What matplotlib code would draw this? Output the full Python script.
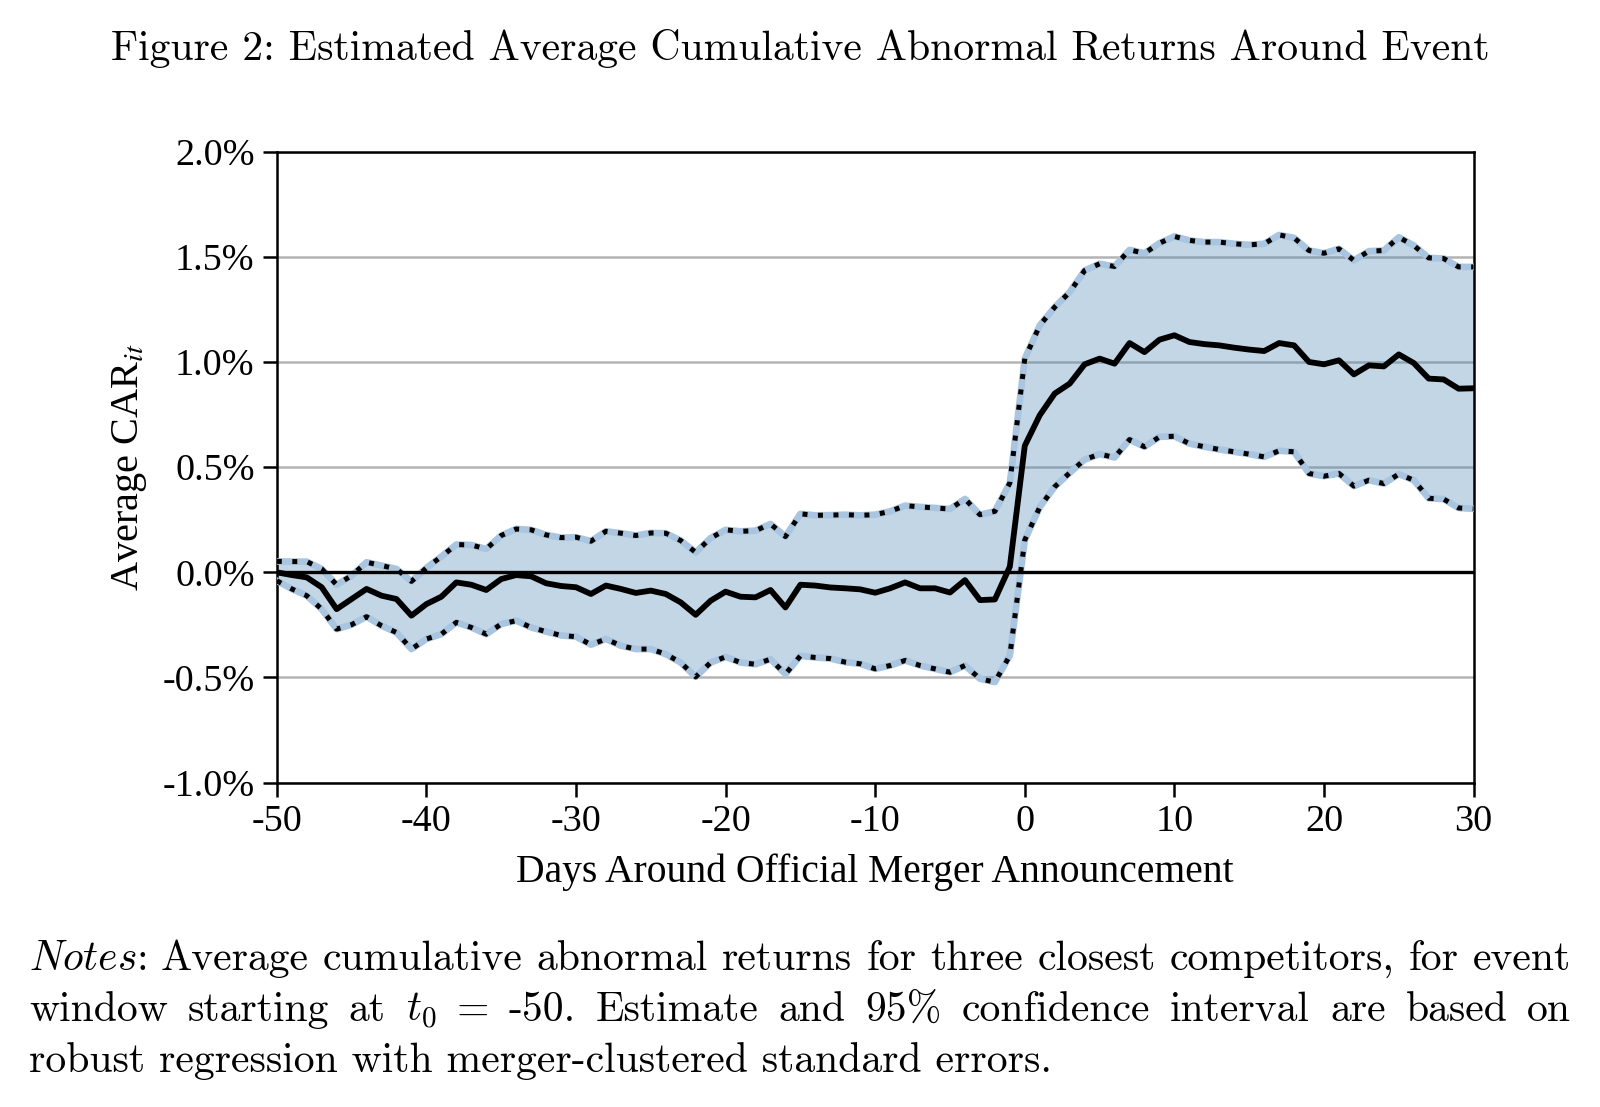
import numpy as np
import matplotlib
matplotlib.use("Agg")
import matplotlib.pyplot as plt

# event days and estimates (in percent)
days = np.arange(-50, 31)

car_mean = [0.00, -0.013, -0.024, -0.071, -0.175, -0.127, -0.079, -0.111, -0.127, -0.206,
            -0.151, -0.116, -0.048, -0.059, -0.084, -0.032, -0.013, -0.019, -0.052, -0.065,
            -0.071, -0.103, -0.063, -0.079, -0.098, -0.087, -0.103, -0.143, -0.202, -0.135,
            -0.092, -0.116, -0.119, -0.084, -0.167, -0.059, -0.063, -0.072, -0.076, -0.081,
            -0.097, -0.076, -0.048, -0.076, -0.076, -0.096, -0.037, -0.132, -0.129, 0.027,
            0.602, 0.747, 0.850, 0.897, 0.989, 1.016, 0.992, 1.090, 1.047, 1.106,
            1.127, 1.095, 1.085, 1.079, 1.068, 1.059, 1.052, 1.090, 1.079, 1.000,
            0.989, 1.008, 0.941, 0.984, 0.979, 1.036, 0.995, 0.921, 0.917, 0.873, 0.875]

ci_upper = [0.052, 0.051, 0.051, 0.016, -0.059, -0.016, 0.048, 0.032, 0.016, -0.043,
            0.021, 0.075, 0.132, 0.130, 0.111, 0.175, 0.206, 0.202, 0.178, 0.165,
            0.167, 0.148, 0.195, 0.186, 0.175, 0.187, 0.186, 0.151, 0.095, 0.163,
            0.202, 0.195, 0.198, 0.230, 0.170, 0.278, 0.271, 0.272, 0.274, 0.271,
            0.274, 0.290, 0.317, 0.311, 0.306, 0.301, 0.349, 0.274, 0.290, 0.425,
            1.016, 1.174, 1.261, 1.332, 1.435, 1.467, 1.454, 1.533, 1.517, 1.565,
            1.597, 1.578, 1.570, 1.570, 1.562, 1.557, 1.562, 1.604, 1.590, 1.530,
            1.517, 1.538, 1.483, 1.527, 1.530, 1.593, 1.554, 1.495, 1.492, 1.452, 1.452]

ci_lower = [-0.040, -0.079, -0.111, -0.175, -0.270, -0.249, -0.211, -0.254, -0.286, -0.365,
            -0.317, -0.294, -0.238, -0.262, -0.294, -0.246, -0.230, -0.262, -0.282, -0.300,
            -0.306, -0.344, -0.317, -0.349, -0.365, -0.365, -0.389, -0.429, -0.497, -0.429,
            -0.402, -0.429, -0.437, -0.413, -0.484, -0.397, -0.405, -0.410, -0.427, -0.435,
            -0.459, -0.443, -0.419, -0.443, -0.459, -0.475, -0.443, -0.506, -0.522, -0.395,
            0.154, 0.310, 0.407, 0.473, 0.536, 0.562, 0.546, 0.631, 0.597, 0.644,
            0.647, 0.612, 0.597, 0.584, 0.573, 0.562, 0.549, 0.578, 0.573, 0.470,
            0.457, 0.470, 0.410, 0.438, 0.422, 0.467, 0.438, 0.352, 0.348, 0.306, 0.302]

yticks = [-1.0, -0.5, 0.0, 0.5, 1.0, 1.5, 2.0]
ytick_labels = ['-1.0%', '-0.5%', '0.0%', '0.5%', '1.0%', '1.5%', '2.0%']
xticks = [-50, -40, -30, -20, -10, 0, 10, 20, 30]
xtick_labels = ['-50', '-40', '-30', '-20', '-10', '0', '10', '20', '30']

title = 'Figure 2: Estimated Average Cumulative Abnormal Returns Around Event'
notes_line1 = [r'$\mathit{Notes}$:', 'Average', 'cumulative', 'abnormal', 'returns', 'for',
               'three', 'closest', 'competitors,', 'for', 'event']
notes_line2 = ['window', 'starting', 'at', r'$t_0$', '=', '-50.', 'Estimate', 'and', '95%',
               'confidence', 'interval', 'are', 'based', 'on']
notes_line3 = 'robust regression with merger-clustered standard errors.'

plt.rcParams['font.family'] = 'Liberation Serif'

fig = plt.figure(figsize=(16, 11.07), dpi=100)
ax = fig.add_axes([0.173, 0.293, 0.748, 0.570])

# confidence band
ax.fill_between(days, ci_lower, ci_upper, color='steelblue', alpha=0.32, lw=0, zorder=2)
ax.plot(days, ci_upper, color='#a9c5df', lw=4.8, zorder=3)
ax.plot(days, ci_lower, color='#a9c5df', lw=4.8, zorder=3)
ax.plot(days, ci_upper, color='black', lw=3.6, linestyle=(0, (1, 2.1)), zorder=4)
ax.plot(days, ci_lower, color='black', lw=3.6, linestyle=(0, (1, 2.1)), zorder=4)

# point estimate
ax.axhline(0, color='black', lw=2.4, zorder=5)
ax.plot(days, car_mean, color='black', lw=4.2, zorder=6)

ax.set_xlim(-50, 30)
ax.set_ylim(-1.0, 2.0)
ax.set_yticks(yticks)
ax.set_yticklabels(ytick_labels)
ax.set_xticks(xticks)
ax.set_xticklabels(xtick_labels)
ax.yaxis.grid(True, color='#b4b4b4', lw=1.8)
ax.set_axisbelow(True)
ax.tick_params(axis='both', direction='out', length=10, width=1.8, labelsize=27.5, pad=6)
for s in ax.spines.values():
    s.set_linewidth(1.8)

ax.set_xlabel('Days Around Official Merger Announcement', fontsize=28.5, labelpad=10)
ax.set_ylabel(r'Average CAR$_{it}$', fontsize=29, math_fontfamily='stix', labelpad=10)

fig.text(0.5, 0.956, title, ha='center', va='center', family='cmr10', fontsize=30)

# justified notes paragraph
renderer = fig.canvas.get_renderer()
W = fig.bbox.width

def justify(words, y, x0, x1):
    texts = [fig.text(0, y, w, family='cmr10', fontsize=30, va='baseline',
                      math_fontfamily='cm') for w in words]
    widths = [t.get_window_extent(renderer).width for t in texts]
    gap = ((x1 - x0) * W - sum(widths)) / (len(words) - 1)
    x = x0 * W
    for t, w in zip(texts, widths):
        t.set_x(x / W)
        x += w + gap

justify(notes_line1, 0.1235, 0.018, 0.982)
justify(notes_line2, 0.0775, 0.018, 0.982)
fig.text(0.018, 0.0315, notes_line3, family='cmr10', fontsize=30, va='baseline')

fig.savefig('out.png', dpi=100)
